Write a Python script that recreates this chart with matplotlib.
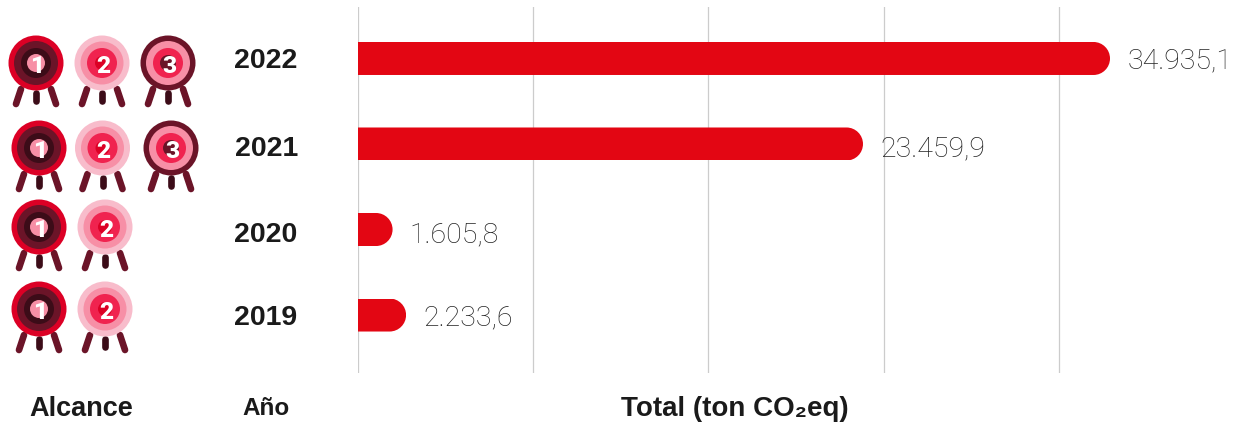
import matplotlib
matplotlib.use("Agg")
import matplotlib.pyplot as plt
from matplotlib.patches import Circle, PathPatch
from matplotlib.path import Path

years = ["2022", "2021", "2020", "2019"]
totals = [34935.1, 23459.9, 1605.8, 2233.6]
total_labels = ["34.935,1", "23.459,9", "1.605,8", "2.233,6"]
scopes = [[1, 2, 3], [1, 2, 3], [1, 2], [1, 2]]
grid_ticks = [0, 8140, 16280, 24420, 32560]

RED = "#e30613"
MAROON = "#6b1428"
DARK = "#3c0c18"
PINK = "#f78fa6"
PALE = "#f8bccb"
CORAL = "#f0234f"
CRIMSON = "#dc0025"

# ring colours from outside in, for each scope
rings = {
    1: [(27.5, CRIMSON), (22, MAROON), (15, DARK), (9, PINK)],
    2: [(27.5, PALE), (21.5, PINK), (15, CORAL), (7, CRIMSON)],
    3: [(27.5, MAROON), (22, PINK), (15, CORAL), (8, MAROON)],
}

icon_x = [[36, 102, 168], [39, 102.5, 171], [39, 105], [39, 105]]
icon_y = [63, 148, 227, 309]
year_x = [265.5, 266.5, 265.5, 265.5]
year_y = [58, 146, 232, 315]

W, H = 1246, 425
ROW_PX = 85.5
BAR_PX = 33
INK = "#1a1a1a"


def round_end_path(end, row, rx, ry):
    # square on the left (hidden past zero), round on the right
    k = 0.5523
    verts = [(-rx, row - ry), (end - rx, row - ry),
             (end - rx + k * rx, row - ry), (end, row - k * ry), (end, row),
             (end, row + k * ry), (end - rx + k * rx, row + ry), (end - rx, row + ry),
             (-rx, row + ry), (-rx, row - ry)]
    codes = [Path.MOVETO, Path.LINETO,
             Path.CURVE4, Path.CURVE4, Path.CURVE4,
             Path.CURVE4, Path.CURVE4, Path.CURVE4,
             Path.LINETO, Path.CLOSEPOLY]
    return Path(verts, codes)


plt.rcParams["font.family"] = ["Liberation Sans", "DejaVu Sans"]
fig = plt.figure(figsize=(W / 100, H / 100), dpi=100)

# bars, x is in tons, y is the row number
PX_PER_TON = 752 / 34935.1
ax = fig.add_axes([358 / W, 1 - 373 / H, (W - 358) / W, 366 / H])
ax.set_xlim(0, (W - 358) / PX_PER_TON)
ax.set_ylim(3.678, -0.602)
ax.axis("off")
for tick in grid_ticks:
    ax.axvline(tick, color="#cccccc", lw=0.9, zorder=1)

rx = (BAR_PX / 2) / PX_PER_TON
ry = (BAR_PX / 2) / ROW_PX
bars = ax.barh(range(len(totals)), totals, height=BAR_PX / ROW_PX, color=RED, zorder=2)
for i, bar in enumerate(bars):
    clip = PathPatch(round_end_path(totals[i], i, rx, ry), transform=ax.transData)
    bar.set_clip_path(clip)
    dy = year_y[i] - (58.5 + ROW_PX * i)
    ax.annotate(total_labels[i], (totals[i], i), xytext=(12.5, -dy * 0.72), textcoords="offset points",
                ha="left", va="center_baseline", fontsize=20.5, color="#222222",
                family=["Roboto", "DejaVu Sans"], fontweight="light", annotation_clip=False)

# everything else is placed in pixels
over = fig.add_axes([0, 0, 1, 1])
over.set_xlim(0, W)
over.set_ylim(H, 0)
over.axis("off")
over.patch.set_alpha(0)

for row, scope_row in enumerate(scopes):
    cy = icon_y[row]
    for cx, scope in zip(icon_x[row], scope_row):
        over.plot([cx - 15, cx - 20], [cy + 26, cy + 41], color=MAROON, lw=4.8, solid_capstyle="round")
        over.plot([cx + 15, cx + 20], [cy + 26, cy + 41], color=MAROON, lw=4.8, solid_capstyle="round")
        over.plot([cx, cx], [cy + 30, cy + 38], color=DARK, lw=4.8, solid_capstyle="round")
        for r, col in rings[scope]:
            over.add_patch(Circle((cx, cy), r, color=col, lw=0, zorder=3))
        over.text(cx + 1, cy + 1, str(scope), color="white", fontsize=17.5, fontweight="black",
                  family=["Roboto", "DejaVu Sans"], ha="center", va="center_baseline", zorder=4)
    over.text(year_x[row], year_y[row], years[row], fontsize=20.5, fontweight="bold",
              color=INK, ha="center", va="center_baseline")

over.text(81, 406, "Alcance", fontsize=19.5, fontweight="bold", color=INK, ha="center", va="center_baseline")
over.text(266, 406, "Año", fontsize=17.5, fontweight="bold", color=INK, ha="center", va="center_baseline")
over.text(734.5, 406, "Total (ton CO₂eq)", fontsize=20, fontweight="bold", color=INK, ha="center", va="center_baseline")

fig.savefig("out.png", dpi=100)
